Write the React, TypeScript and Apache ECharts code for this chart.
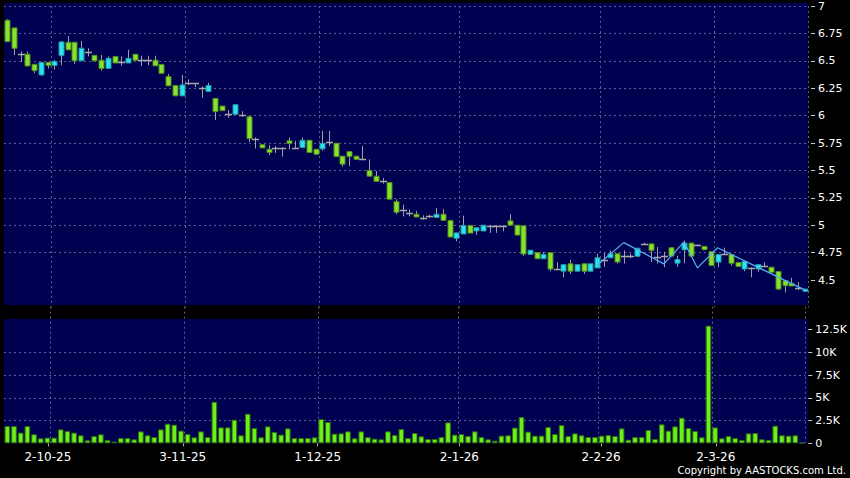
import React, { useEffect, useRef } from "react";
import * as echarts from "echarts";

// ---- data ----
const dates: string[] = [
  "23-9-25", "24-9-25", "25-9-25", "26-9-25", "29-9-25", "30-9-25",
  "2-10-25", "3-10-25", "6-10-25", "8-10-25", "9-10-25", "10-10-25", "13-10-25", "14-10-25", "15-10-25", "16-10-25",
  "17-10-25", "20-10-25", "21-10-25", "22-10-25", "23-10-25", "24-10-25", "27-10-25", "28-10-25", "30-10-25", "31-10-25",
  "3-11-25", "4-11-25", "5-11-25", "6-11-25", "7-11-25", "10-11-25", "11-11-25", "12-11-25", "13-11-25", "14-11-25",
  "17-11-25", "18-11-25", "19-11-25", "20-11-25", "21-11-25", "24-11-25", "25-11-25", "26-11-25", "27-11-25", "28-11-25",
  "1-12-25", "2-12-25", "3-12-25", "4-12-25", "5-12-25", "8-12-25", "9-12-25", "10-12-25", "11-12-25", "12-12-25",
  "15-12-25", "16-12-25", "17-12-25", "18-12-25", "19-12-25", "22-12-25", "23-12-25", "24-12-25", "29-12-25", "30-12-25", "31-12-25",
  "2-1-26", "5-1-26", "6-1-26", "7-1-26", "8-1-26", "9-1-26", "12-1-26", "13-1-26", "14-1-26", "15-1-26", "16-1-26",
  "19-1-26", "20-1-26", "21-1-26", "22-1-26", "23-1-26", "26-1-26", "27-1-26", "28-1-26", "29-1-26", "30-1-26",
  "2-2-26", "3-2-26", "4-2-26", "5-2-26", "6-2-26", "9-2-26", "10-2-26", "11-2-26", "12-2-26", "13-2-26",
  "16-2-26", "20-2-26", "23-2-26", "24-2-26", "25-2-26", "26-2-26", "27-2-26",
  "2-3-26", "3-3-26", "4-3-26", "5-3-26", "6-3-26", "9-3-26", "10-3-26", "11-3-26", "12-3-26", "13-3-26",
  "16-3-26", "17-3-26", "18-3-26", "19-3-26", "20-3-26",
];

const tickLabels: string[] = ["2-10-25", "3-11-25", "1-12-25", "2-1-26", "2-2-26", "2-3-26"];

const open: number[] = [
  6.87, 6.8, 6.56, 6.56, 6.468, 6.371, 6.486, 6.456, 6.547, 6.669,
  6.669, 6.5, 6.577, 6.55, 6.505, 6.43, 6.54, 6.486, 6.48, 6.56,
  6.505, 6.51, 6.506, 6.467, 6.357, 6.275, 6.18, 6.3, 6.293, 6.248,
  6.22, 6.157, 6.087, 6.013, 6.012, 6.01, 5.99, 5.785, 5.735, 5.693,
  5.708, 5.708, 5.77, 5.708, 5.708, 5.775, 5.693, 5.696, 5.757, 5.748,
  5.63, 5.672, 5.63, 5.6, 5.5, 5.447, 5.4, 5.39, 5.215, 5.135,
  5.11, 5.1, 5.07, 5.08, 5.07, 5.1, 5.044, 4.88, 4.92, 4.998,
  4.947, 4.947, 4.995, 4.995, 4.995, 5.04, 5.0, 4.995, 4.734, 4.75,
  4.694, 4.75, 4.6, 4.58, 4.648, 4.58, 4.648, 4.58, 4.61, 4.685,
  4.703, 4.74, 4.715, 4.716, 4.716, 4.83, 4.83, 4.71, 4.715, 4.795,
  4.653, 4.776, 4.837, 4.817, 4.807, 4.76, 4.663, 4.74, 4.733, 4.66,
  4.6, 4.61, 4.6, 4.63, 4.617, 4.577, 4.494, 4.47, 4.423, 4.396,
];
const close: number[] = [
  6.675, 6.614, 6.56, 6.453, 6.41, 6.486, 6.456, 6.495, 6.672, 6.6,
  6.5, 6.614, 6.577, 6.5, 6.43, 6.523, 6.48, 6.486, 6.523, 6.505,
  6.505, 6.51, 6.454, 6.385, 6.272, 6.18, 6.28, 6.3, 6.293, 6.248,
  6.275, 6.036, 6.045, 6.013, 6.1, 6.01, 5.79, 5.785, 5.705, 5.663,
  5.708, 5.708, 5.745, 5.708, 5.775, 5.663, 5.647, 5.748, 5.757, 5.626,
  5.557, 5.626, 5.6, 5.6, 5.447, 5.4, 5.4, 5.237, 5.118, 5.135,
  5.11, 5.075, 5.07, 5.08, 5.1, 5.044, 4.892, 4.93, 4.998, 4.928,
  4.977, 5.0, 4.995, 4.995, 4.995, 5.0, 4.91, 4.737, 4.772, 4.694,
  4.734, 4.6, 4.6, 4.64, 4.58, 4.64, 4.58, 4.648, 4.703, 4.685,
  4.74, 4.664, 4.715, 4.716, 4.79, 4.83, 4.77, 4.71, 4.715, 4.718,
  4.687, 4.837, 4.718, 4.817, 4.776, 4.632, 4.733, 4.74, 4.653, 4.623,
  4.67, 4.61, 4.64, 4.63, 4.57, 4.417, 4.448, 4.445, 4.423, 4.417,
];
const low: number[] = [
  6.67, 6.553, 6.49, 6.45, 6.386, 6.362, 6.43, 6.42, 6.46, 6.6,
  6.47, 6.5, 6.54, 6.495, 6.41, 6.43, 6.48, 6.456, 6.48, 6.505,
  6.454, 6.46, 6.454, 6.385, 6.272, 6.18, 6.18, 6.28, 6.26, 6.165,
  6.22, 5.96, 6.045, 5.98, 6.012, 5.99, 5.76, 5.7, 5.705, 5.64,
  5.66, 5.626, 5.69, 5.7, 5.708, 5.663, 5.647, 5.68, 5.72, 5.626,
  5.535, 5.54, 5.6, 5.595, 5.447, 5.4, 5.38, 5.237, 5.1, 5.08,
  5.08, 5.075, 5.05, 5.065, 5.07, 5.044, 4.892, 4.853, 4.92, 4.928,
  4.913, 4.947, 4.93, 4.93, 4.945, 5.0, 4.91, 4.72, 4.734, 4.694,
  4.694, 4.58, 4.59, 4.526, 4.556, 4.58, 4.556, 4.58, 4.61, 4.62,
  4.703, 4.65, 4.65, 4.7, 4.716, 4.82, 4.664, 4.65, 4.617, 4.718,
  4.62, 4.653, 4.718, 4.81, 4.776, 4.632, 4.617, 4.735, 4.632, 4.623,
  4.58, 4.525, 4.577, 4.62, 4.57, 4.41, 4.387, 4.445, 4.41, 4.396,
];
const high: number[] = [
  6.88, 6.8, 6.584, 6.584, 6.468, 6.486, 6.486, 6.505, 6.68, 6.726,
  6.669, 6.68, 6.614, 6.55, 6.553, 6.54, 6.54, 6.54, 6.6, 6.56,
  6.546, 6.546, 6.546, 6.467, 6.38, 6.275, 6.37, 6.33, 6.293, 6.266,
  6.3, 6.157, 6.087, 6.05, 6.1, 6.04, 5.99, 5.8, 5.735, 5.73,
  5.72, 5.708, 5.8, 5.77, 5.8, 5.775, 5.693, 5.86, 5.86, 5.748,
  5.63, 5.672, 5.63, 5.723, 5.6, 5.495, 5.43, 5.39, 5.237, 5.187,
  5.14, 5.13, 5.09, 5.095, 5.157, 5.147, 5.044, 4.93, 5.087, 4.998,
  4.977, 5.0, 5.0, 5.0, 5.0, 5.1, 5.0, 4.995, 4.772, 4.75,
  4.755, 4.75, 4.66, 4.64, 4.685, 4.64, 4.648, 4.648, 4.74, 4.746,
  4.77, 4.74, 4.77, 4.74, 4.79, 4.84, 4.83, 4.8, 4.755, 4.795,
  4.72, 4.86, 4.837, 4.825, 4.807, 4.76, 4.733, 4.795, 4.733, 4.66,
  4.67, 4.615, 4.64, 4.66, 4.617, 4.577, 4.494, 4.52, 4.48, 4.417,
];
const volume: number[] = [
  1900, 1900, 1170, 1900, 990, 550, 620, 620, 1530, 1350,
  1170, 880, 330, 800, 990, 360, 180, 580, 580, 440,
  1310, 880, 690, 1530, 2150, 2040, 1390, 1020, 660, 1310,
  690, 4560, 1750, 1750, 2590, 880, 3250, 1680, 660, 1860,
  1240, 950, 1640, 580, 580, 580, 660, 2660, 2340, 1060,
  1090, 1310, 550, 1310, 690, 510, 440, 1310, 910, 1570,
  580, 1130, 770, 470, 470, 690, 2300, 950, 1020, 800,
  1310, 690, 440, 290, 840, 880, 1720, 2880, 1280, 840,
  840, 1790, 1020, 2000, 800, 1090, 880, 690, 690, 840,
  910, 800, 1640, 400, 690, 690, 1460, 470, 2080, 1390,
  1860, 2810, 1680, 1350, 660, 12920, 1750, 550, 800, 580,
  360, 1090, 1130, 440, 360, 1930, 880, 840, 880, 60,
];
// zig-zag overlay line: vertices (date, price)
const zigDates: string[] = ["2-2-26", "6-2-26", "16-2-26", "24-2-26", "26-2-26", "3-3-26", "20-3-26"];
const zigValues: number[] = [4.633, 4.841, 4.647, 4.847, 4.61, 4.794, 4.41];

const priceTicks: number[] = [4.5, 4.75, 5, 5.25, 5.5, 5.75, 6, 6.25, 6.5, 6.75, 7];
const volTicks: number[] = [0, 2500, 5000, 7500, 10000, 12500];

const GREEN = "#86e22c";
const GREEN_B = "#4f8a1e";
const CYAN = "#26e4f2";
const CYAN_B = "#2a8f9c";
const WICK = "#a0a0a0";
const GRID = "#5c5c8e";
const NAVY = "#000050";
const FONT = "DejaVu Sans";

export default function App() {
  const ref = useRef<HTMLDivElement>(null);
  useEffect(() => {
    if (!ref.current) return;
    const chart = echarts.init(ref.current, undefined, { renderer: "svg" });
    const labelIdx = tickLabels.map((t) => dates.indexOf(t));
    const candleData = dates.map((_, i) => [i, open[i], close[i], low[i], high[i]]);
    const zig = dates.map((d) => {
      const k = zigDates.indexOf(d);
      return k >= 0 ? zigValues[k] : null;
    });
    const vSplit = {
      show: true,
      interval: (i: number) => labelIdx.includes(i - 1),
      lineStyle: { color: GRID, type: [2, 3] as any, width: 1 },
    };
    const fmtNum = (v: number) => String(+(+v).toFixed(2));
    chart.setOption({
      animation: false,
      backgroundColor: "#000000",
      graphic: [
        { type: "rect", z: -100, silent: true, shape: { x: 4, y: 3, width: 804, height: 302 }, style: { fill: NAVY } },
        { type: "rect", z: -100, silent: true, shape: { x: 4, y: 319, width: 804, height: 124.3 }, style: { fill: NAVY } },
        {
          type: "text", right: 4, top: 465.5, z: 10,
          style: { text: "Copyright by AASTOCKS.com Ltd.", fill: "#ffffff", font: `10px ${FONT}` },
        },
      ],
      grid: [
        { left: 4, width: 804, top: 6, height: 301.4 },
        { left: 4, width: 804, top: 306.7, height: 136.6 },
        { left: 4, width: 809.6, top: 440, height: 3.3 },
      ],
      xAxis: [
        { type: "category", gridIndex: 0, data: dates, boundaryGap: true, axisLine: { show: false }, axisTick: { show: false }, axisLabel: { show: false }, splitLine: vSplit },
        { type: "category", gridIndex: 1, data: dates, boundaryGap: true, axisLine: { show: false }, axisTick: { show: false }, axisLabel: { show: false }, splitLine: vSplit },
        {
          type: "category", gridIndex: 2, data: dates, boundaryGap: true, position: "bottom", offset: 3,
          axisLine: { show: false },
          axisTick: { show: true, alignWithLabel: true, length: 3, interval: (i: number) => labelIdx.includes(i), lineStyle: { color: "#b0b0b0" } },
          axisLabel: { show: true, interval: (i: number) => labelIdx.includes(i), color: "#ffffff", fontSize: 12, fontFamily: FONT, margin: 5 },
          splitLine: { show: false },
        },
      ],
      yAxis: [
        {
          type: "value", gridIndex: 0, position: "right", min: 4.25, max: 7, interval: 0.25, offset: 3,
          axisLine: { show: false },
          axisTick: { show: true, length: 4, customValues: priceTicks, lineStyle: { color: "#c8c8c8" } },
          axisLabel: { color: "#ffffff", fontSize: 11, fontFamily: FONT, margin: 7, customValues: priceTicks, formatter: fmtNum },
          splitLine: { show: true, showMinLine: false, lineStyle: { color: GRID, type: [2, 3] as any } },
        },
        {
          type: "value", gridIndex: 1, position: "right", min: 0, max: 15000, interval: 2500, offset: 3,
          axisLine: { show: false },
          axisTick: { show: true, length: 4, customValues: volTicks, lineStyle: { color: "#c8c8c8" } },
          axisLabel: {
            color: "#ffffff", fontSize: 11, fontFamily: FONT, margin: 7, customValues: volTicks,
            formatter: (v: number) => (v === 0 ? "0" : `${v / 1000}K`),
          },
          splitLine: { show: true, showMinLine: false, showMaxLine: false, lineStyle: { color: GRID, type: [2, 3] as any } },
        },
        { type: "value", gridIndex: 2, show: false },
      ],
      series: [
        {
          type: "custom",
          xAxisIndex: 0,
          yAxisIndex: 0,
          encode: { x: 0, y: [1, 2, 3, 4] },
          data: candleData,
          z: 3,
          renderItem: (params: any, api: any) => {
            const i = api.value(0);
            const o = api.value(1);
            const c = api.value(2);
            const l = api.value(3);
            const h = api.value(4);
            const pO = api.coord([i, o]);
            const pC = api.coord([i, c]);
            const pL = api.coord([i, l]);
            const pH = api.coord([i, h]);
            const w = 5;
            const x = Math.round(pO[0]) + 0.5;
            const children: any[] = [
              { type: "line", shape: { x1: x, y1: pH[1], x2: x, y2: pL[1] }, style: { stroke: WICK, lineWidth: 1 } },
            ];
            if (o === c) {
              children.push({
                type: "line",
                shape: { x1: x - 3.5, y1: Math.round(pO[1]) + 0.5, x2: x + 3.5, y2: Math.round(pO[1]) + 0.5 },
                style: { stroke: "#a8a8a8", lineWidth: 1.5 },
              });
            } else {
              const top = Math.min(pO[1], pC[1]);
              const hh = Math.max(Math.abs(pO[1] - pC[1]), 2);
              const up = c > o;
              children.push({
                type: "rect",
                shape: { x: x - w / 2, y: top, width: w, height: hh },
                style: { fill: up ? CYAN : GREEN, stroke: up ? CYAN_B : GREEN_B, lineWidth: 1 },
              });
            }
            return { type: "group", children };
          },
        },
        {
          type: "line",
          xAxisIndex: 0,
          yAxisIndex: 0,
          data: zig,
          connectNulls: true,
          symbol: "none",
          z: 4,
          lineStyle: { color: "#55aef0", width: 1.2 },
        },
        {
          type: "bar",
          xAxisIndex: 1,
          yAxisIndex: 1,
          data: volume,
          barWidth: 5.6,
          itemStyle: { color: "#6cf01a", borderColor: "#2f6e0c", borderWidth: 1 },
        },
      ],
    });
    return () => chart.dispose();
  }, []);
  return (
    <div
      ref={ref}
      style={{ position: "fixed", left: 0, top: 0, width: 850, height: 478, background: "#000" }}
    />
  );
}
